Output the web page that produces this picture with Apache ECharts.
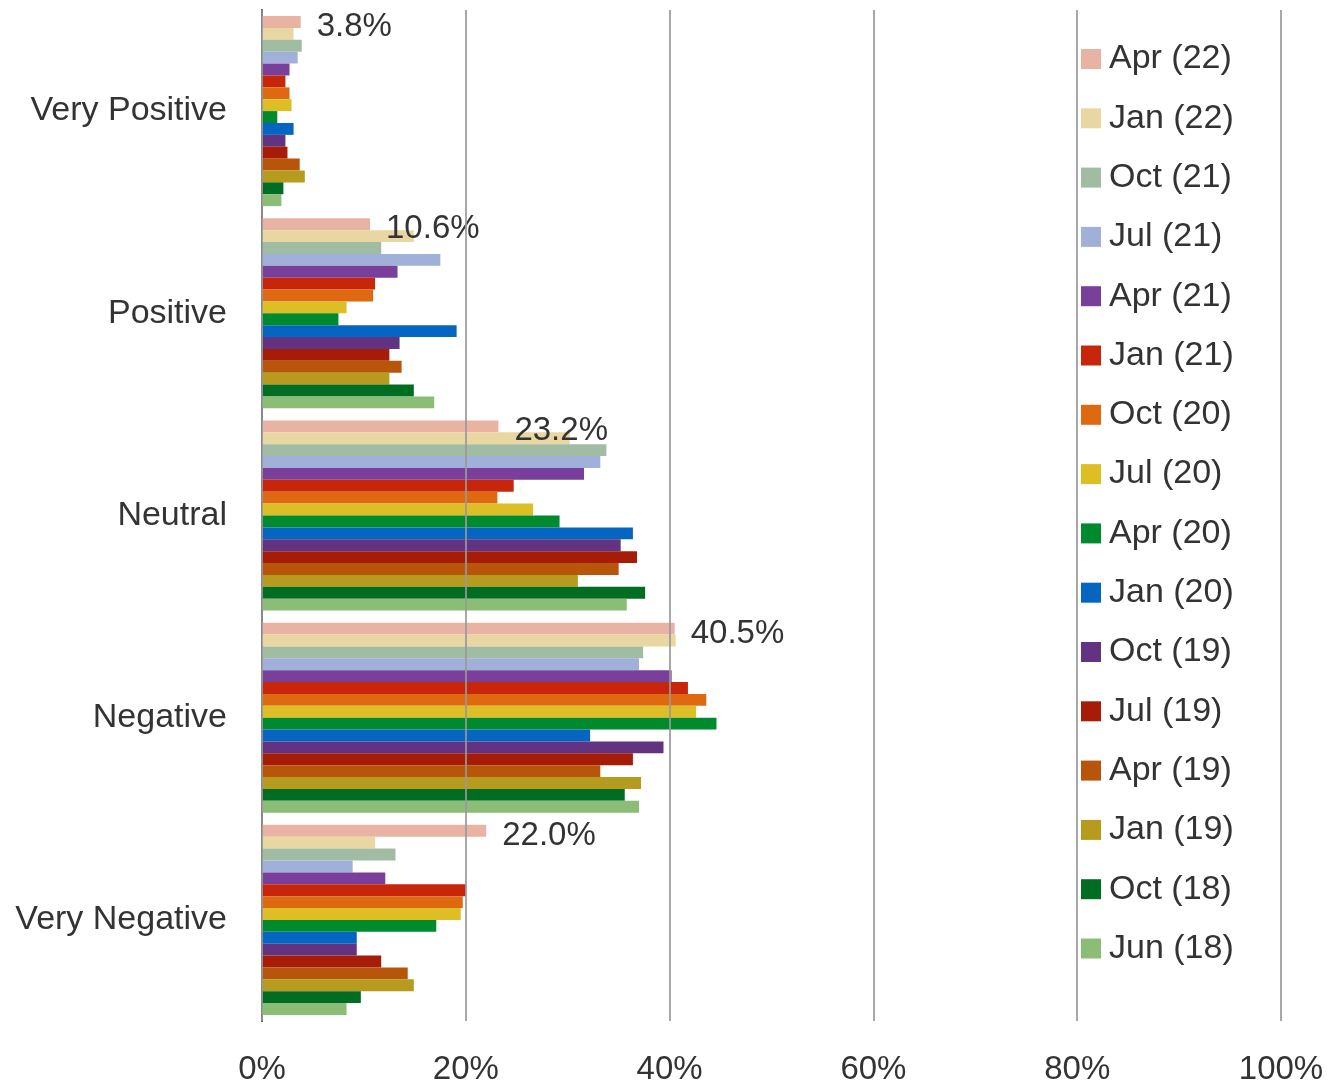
<!DOCTYPE html>
<html>
<head>
<meta charset="utf-8">
<script src="https://cdn.jsdelivr.net/npm/echarts@6/dist/echarts.min.js"></script>
<style>
  html, body { margin: 0; padding: 0; background: #fff; }
  #chart { width: 1341px; height: 1087px; }
</style>
</head>
<body>
<div id="chart"></div>
<script>
const categories = ["Very Positive", "Positive", "Neutral", "Negative", "Very Negative"]
const xTicks = [0, 20, 40, 60, 80, 100]

// one array per survey wave, values in % per category (top to bottom)
const apr22 = [3.8, 10.6, 23.2, 40.5, 22.0]
const jan22 = [3.1, 14.9, 30.2, 40.6, 11.1]
const oct21 = [3.9, 11.7, 33.8, 37.4, 13.1]
const jul21 = [3.5, 17.5, 33.2, 37.0, 8.9]
const apr21 = [2.7, 13.3, 31.6, 40.2, 12.1]
const jan21 = [2.3, 11.1, 24.7, 41.8, 20.0]
const oct20 = [2.7, 10.9, 23.1, 43.6, 19.7]
const jul20 = [2.9, 8.3, 26.6, 42.6, 19.5]
const apr20 = [1.5, 7.5, 29.2, 44.6, 17.1]
const jan20 = [3.1, 19.1, 36.4, 32.2, 9.3]
const oct19 = [2.3, 13.5, 35.2, 39.4, 9.3]
const jul19 = [2.5, 12.5, 36.8, 36.4, 11.7]
const apr19 = [3.7, 13.7, 35.0, 33.2, 14.3]
const jan19 = [4.2, 12.5, 31.0, 37.2, 14.9]
const oct18 = [2.1, 14.9, 37.6, 35.6, 9.7]
const jun18 = [1.9, 16.9, 35.8, 37.0, 8.3]

const waves = [
  { name: "Apr (22)", data: apr22, color: "#E9B3A3" },
  { name: "Jan (22)", data: jan22, color: "#E9D7A3" },
  { name: "Oct (21)", data: oct21, color: "#A0BDA3" },
  { name: "Jul (21)", data: jul21, color: "#A1B0D9" },
  { name: "Apr (21)", data: apr21, color: "#7A3E9B" },
  { name: "Jan (21)", data: jan21, color: "#C8260A" },
  { name: "Oct (20)", data: oct20, color: "#DE6911" },
  { name: "Jul (20)", data: jul20, color: "#DDBE25" },
  { name: "Apr (20)", data: apr20, color: "#008A2E" },
  { name: "Jan (20)", data: jan20, color: "#0566C2" },
  { name: "Oct (19)", data: oct19, color: "#613380" },
  { name: "Jul (19)", data: jul19, color: "#A61C07" },
  { name: "Apr (19)", data: apr19, color: "#B7550B" },
  { name: "Jan (19)", data: jan19, color: "#B69B1E" },
  { name: "Oct (18)", data: oct18, color: "#006D23" },
  { name: "Jun (18)", data: jun18, color: "#8BBD77" }
]

const font = "Liberation Sans"

const seriesData = waves.map((w, i) => ({
  type: "bar",
  name: w.name,
  data: w.data,
  barGap: "0%",
  barCategoryGap: "6%",
  itemStyle: { color: w.color },
  label: {
    show: i === 0, // only the latest wave gets labels
    position: "right",
    distance: 16,
    offset: [0, 5],
    fontFamily: font,
    fontSize: 33,
    color: "#333",
    formatter: (p) => p.value.toFixed(1) + "%"
  },
  emphasis: { disabled: true }
}))

const chart = echarts.init(document.getElementById("chart"))
chart.setOption({
  animation: false,
  textStyle: { fontFamily: font },
  grid: { left: 262, right: 60, top: 10, bottom: 66 },
  legend: {
    orient: "vertical",
    left: 1076,
    top: 37,
    icon: "rect",
    itemWidth: 20,
    itemHeight: 20,
    itemGap: 25.3,
    data: waves.map((w) => w.name),
    textStyle: {
      fontFamily: font,
      fontSize: 34,
      lineHeight: 34,
      color: "#333",
      padding: [0, 0, 0, 3]
    }
  },
  xAxis: {
    type: "value",
    min: xTicks[0],
    max: xTicks[xTicks.length - 1],
    interval: 20,
    z: 3,
    axisLine: { show: false },
    axisTick: { show: false },
    splitLine: { show: true, lineStyle: { color: "#999", width: 2, opacity: 0.85 } },
    axisLabel: {
      margin: 32,
      fontSize: 33,
      color: "#333",
      formatter: "{value}%"
    }
  },
  yAxis: {
    type: "category",
    data: categories,
    inverse: true,
    axisLine: { show: true, lineStyle: { color: "#333", width: 2 } },
    axisTick: { show: false },
    axisLabel: { margin: 35, fontSize: 34, color: "#333", padding: [12, 0, 0, 0] }
  },
  series: seriesData
})
</script>
</body>
</html>
